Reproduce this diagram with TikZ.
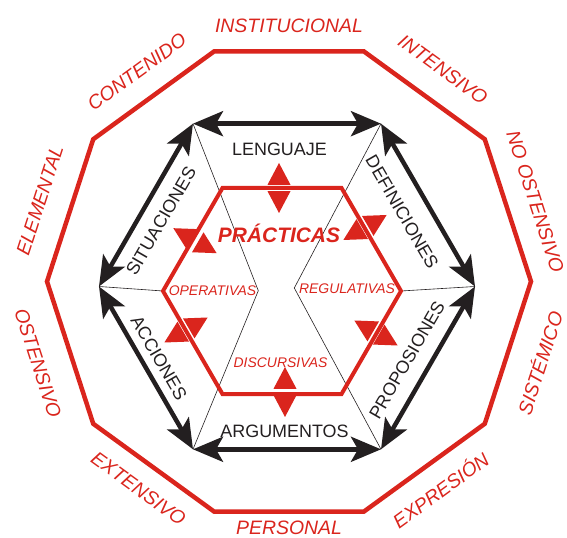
\documentclass[tikz,border=0pt]{standalone}
\usepackage{fontspec}
\setmainfont{Liberation Sans}
\usetikzlibrary{arrows.meta}
\definecolor{mainred}{RGB}{218,37,29}
\definecolor{inkblack}{RGB}{35,31,32}
\begin{document}
\begin{tikzpicture}[x=1bp, y=1bp,
  outline/.style={draw=mainred, line width=4.5bp, line join=miter},
  edgearrow/.style={draw=inkblack, line width=4.5bp,
    {Stealth[length=30bp, width=25bp, inset=7bp]}-{Stealth[length=30bp, width=25bp, inset=7bp]}},
  thinline/.style={draw=inkblack, line width=.6bp},
  outerlabel/.style={text=mainred, font=\fontsize{19.5}{21}\selectfont\itshape, inner sep=0pt},
  sidelabel/.style={text=inkblack, font=\fontsize{18}{20}\selectfont, inner sep=0pt},
  kindlabel/.style={text=mainred, font=\fontsize{14}{15}\selectfont\itshape, inner sep=0pt}]
  \useasboundingbox (0,0) rectangle (567,538);
  \coordinate (dc) at (289,256.5);
  \coordinate (hc) at (287,251.5);
  \coordinate (rc) at (282,247);
  \foreach \i in {0,...,9} \path (dc) ++(\i*36:242) coordinate (d\i);
  \foreach \i in {0,...,5} {
    \path (hc) ++(\i*60:188) coordinate (h\i);
    \path (rc) ++(\i*60:119) coordinate (r\i);
  }
  \coordinate (ml) at (258.3,247.3);
  \coordinate (mr) at (294.3,250);

  \draw[thinline] (h2) -- (ml) -- (h4) (h1) -- (mr) -- (h5) (h3) -- (r3) (h0) -- (r0);
  \draw[outline] (d0) \foreach \i in {1,...,9} { -- (d\i) } -- cycle;
  \draw[outline, line width=4bp] (r0) \foreach \i in {1,...,5} { -- (r\i) } -- cycle;
  \foreach \a/\b in {0/1,1/2,2/3,3/4,4/5,5/0} \draw[edgearrow] (h\a) -- (h\b);

  \foreach \px/\py/\a in {279/350/90, 195/297.3/150, 365/310.5/30,
                          186/208/30, 376/205/150, 285/146/90}
  {
    \scoped[shift={(\px,\py)}, rotate=\a]{
      \fill[mainred] (25,0) -- (3.2,11.5) -- (3.2,-11.5) -- cycle;
      \fill[mainred] (-25,0) -- (-3.2,11.5) -- (-3.2,-11.5) -- cycle;
    }
  }

  \foreach \a/\r/\t [count=\k] in {90/256/INSTITUCIONAL, 54/262/INTENSIVO,
      18/259/NO OSTENSIVO, -18/263/SISTÉMICO, -54/257/EXPRESIÓN,
      -90/246/PERSONAL, -126/256/EXTENSIVO, -162/264/OSTENSIVO,
      162/262/ELEMENTAL, 126/259/CONTENIDO}
    \path (dc) ++(\a:\r) node[outerlabel, rotate={\a>0 ? \a-90 : \a+90}] (outer\k) {\t};

  \node[sidelabel] (lenguaje) at (279.5,389) {LENGUAJE};
  \node[sidelabel] (argumentos) at (284.5,107) {ARGUMENTOS};
  \node[sidelabel, rotate=60] (situaciones) at (161,317) {SITUACIONES};
  \node[sidelabel, rotate=-60] (definiciones) at (402,326) {DEFINICIONES};
  \node[sidelabel, rotate=-60] (acciones) at (159,180) {ACCIONES};
  \node[sidelabel, rotate=60] (proposiones) at (407,178) {PROPOSIONES};

  \node[text=mainred, font=\fontsize{21}{22}\selectfont\bfseries\itshape,
    inner sep=0pt, anchor=base] (practicas) at (279,295.3) {PRÁCTICAS};
  \node[kindlabel] (operativas) at (212.5,247.5) {OPERATIVAS};
  \node[kindlabel] (regulativas) at (347,249) {REGULATIVAS};
  \node[kindlabel] (discursivas) at (280.5,175) {DISCURSIVAS};
\end{tikzpicture}
\end{document}
